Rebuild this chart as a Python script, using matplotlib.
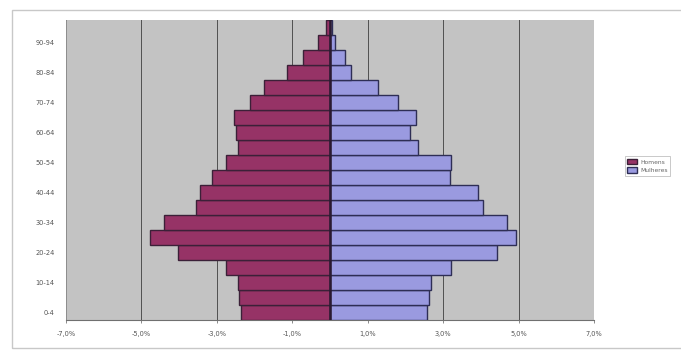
import matplotlib
matplotlib.use("Agg")
import matplotlib.pyplot as plt
from matplotlib.patches import Rectangle
import numpy as np

age_groups = ["0-4", "5-9", "10-14", "15-19", "20-24", "25-29", "30-34", "35-39",
              "40-44", "45-49", "50-54", "55-59", "60-64", "65-69", "70-74", "75-79",
              "80-84", "85-89", "90-94", "95+"]
men = [2.37, 2.42, 2.44, 2.75, 4.04, 4.76, 4.39, 3.55, 3.46, 3.12,
       2.75, 2.44, 2.48, 2.55, 2.13, 1.75, 1.13, 0.72, 0.32, 0.10]
women = [2.56, 2.62, 2.69, 3.20, 4.42, 4.92, 4.68, 4.06, 3.93, 3.18,
         3.22, 2.33, 2.11, 2.29, 1.80, 1.27, 0.56, 0.39, 0.12, 0.05]
x_ticks = [-7, -5, -3, -1, 1, 3, 5, 7]
x_tick_labels = ["-7,0%", "-5,0%", "-3,0%", "-1,0%", "1,0%", "3,0%", "5,0%", "7,0%"]
series_names = ["Homens", "Mulheres"]

W, H = 681, 351
fig = plt.figure(figsize=(W / 100, H / 100), dpi=100)
fig.patch.set_facecolor("white")

# chart-area border (right side runs off the image)
fig.patches.append(Rectangle((12 / W, 1 - 348 / H), (690 - 12) / W, (348 - 10) / H,
                             transform=fig.transFigure, fill=False,
                             edgecolor="#c8c8c8", linewidth=1.0))

ax = fig.add_axes([66 / W, 1 - 320 / H, (594 - 66) / W, 300 / H])
ax.set_facecolor("#c3c3c3")

y = np.arange(len(age_groups))
ax.barh(y, [-v for v in men], height=1.0, color="#963366", edgecolor="#3b2038",
        linewidth=1.0, label=series_names[0], zorder=3)
ax.barh(y, women, height=1.0, color="#9a9ae0", edgecolor="#2e2e55",
        linewidth=1.0, label=series_names[1], zorder=3)
ax.axvline(0, color="#2a1a30", linewidth=1.8, zorder=4)

ax.set_xlim(-7, 7)
ax.set_ylim(-0.5, len(age_groups) - 0.5)
ax.set_xticks(x_ticks)
ax.set_xticklabels(x_tick_labels)
ax.set_yticks(y[::2])
ax.set_yticklabels(age_groups[::2])
ax.tick_params(axis="both", labelsize=4.8, labelcolor="#555555", length=2,
               color="#777777", width=0.6)
ax.tick_params(axis="x", pad=6)
ax.tick_params(axis="y", pad=8, length=0)
ax.xaxis.grid(True, color="#505050", linewidth=0.7, zorder=0)
ax.set_axisbelow(True)
for side in ["top", "right"]:
    ax.spines[side].set_visible(False)
ax.spines["left"].set_color("#9a9a9a")
ax.spines["bottom"].set_color("#707070")
ax.spines["left"].set_linewidth(0.6)
ax.spines["bottom"].set_linewidth(0.8)

leg = fig.legend(loc="center left", bbox_to_anchor=(622 / W, 1 - 166 / H),
                 fontsize=4.3, frameon=True, fancybox=False, handlelength=1.6,
                 handleheight=1.0, borderpad=0.4, labelspacing=0.5,
                 handletextpad=0.5, labelcolor="#666666")
leg.get_frame().set_edgecolor("#b0b0b0")
leg.get_frame().set_linewidth(0.6)

fig.savefig("out.png", dpi=100, facecolor="white")
